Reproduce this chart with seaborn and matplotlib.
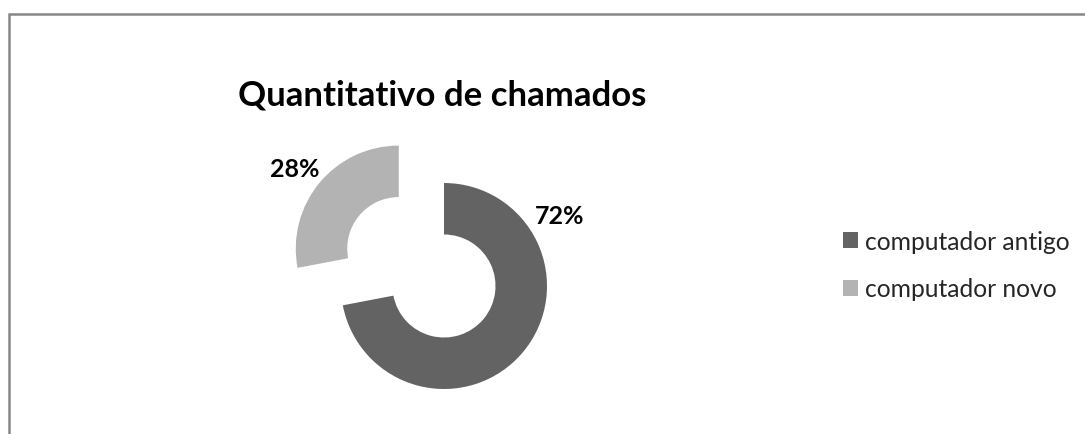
import matplotlib
matplotlib.use("Agg")
import matplotlib.pyplot as plt
from matplotlib.patches import Rectangle
import seaborn as sns

# Chart data
categories = ["computador antigo", "computador novo"]
shares = [72, 28]
colors = ["#636363", "#b3b3b3"]
title = "Quantitativo de chamados"

sns.set_theme(style="white")
plt.rcParams["font.family"] = ["Lato", "DejaVu Sans"]

W, H = 1085, 435
fig = plt.figure(figsize=(W / 100, H / 100), dpi=100)
fig.patch.set_facecolor("white")

# Square axes laid out in pixels: ring centre and outer radius
cx, cy, r_px = 444, H - 287, 103
half = 200
ax = fig.add_axes([(cx - half) / W, (cy - half) / H, 2 * half / W, 2 * half / H])
lim = half / r_px

wedges, _ = ax.pie(
    shares,
    colors=colors,
    startangle=90,
    counterclock=False,
    explode=[0, 0.57],
    radius=1.0,
    wedgeprops=dict(width=0.5, linewidth=0),
)
ax.set_xlim(-lim, lim)
ax.set_ylim(-lim, lim)
ax.set_aspect("equal")
ax.axis("off")

# Percentage labels
label_pos = [(1.126, 0.68), (-1.447, 1.136)]
for val, (lx, ly) in zip(shares, label_pos):
    ax.text(lx, ly, f"{val}%", ha="center", va="center",
            fontsize=18, fontweight="bold", color="black")

fig.text(442 / W, 1 - 105 / H, title, ha="center", va="baseline",
         fontsize=25, fontweight="bold", color="black")

leg = fig.legend(
    wedges, categories,
    loc="center left",
    bbox_to_anchor=(843 / W, 1 - 266 / H),
    frameon=False,
    fontsize=17.7,
    handlelength=0.61,
    handleheight=0.61,
    handletextpad=0.28,
    labelspacing=1.0,
    borderpad=0,
    borderaxespad=0,
)

# Outer frame
fig.patches.append(Rectangle((9 / W, -0.2), 2.0, (H - 15) / H + 0.2,
                             transform=fig.transFigure, fill=False,
                             edgecolor="#878787", linewidth=1.8))

fig.savefig("out.png", dpi=100, facecolor="white")
